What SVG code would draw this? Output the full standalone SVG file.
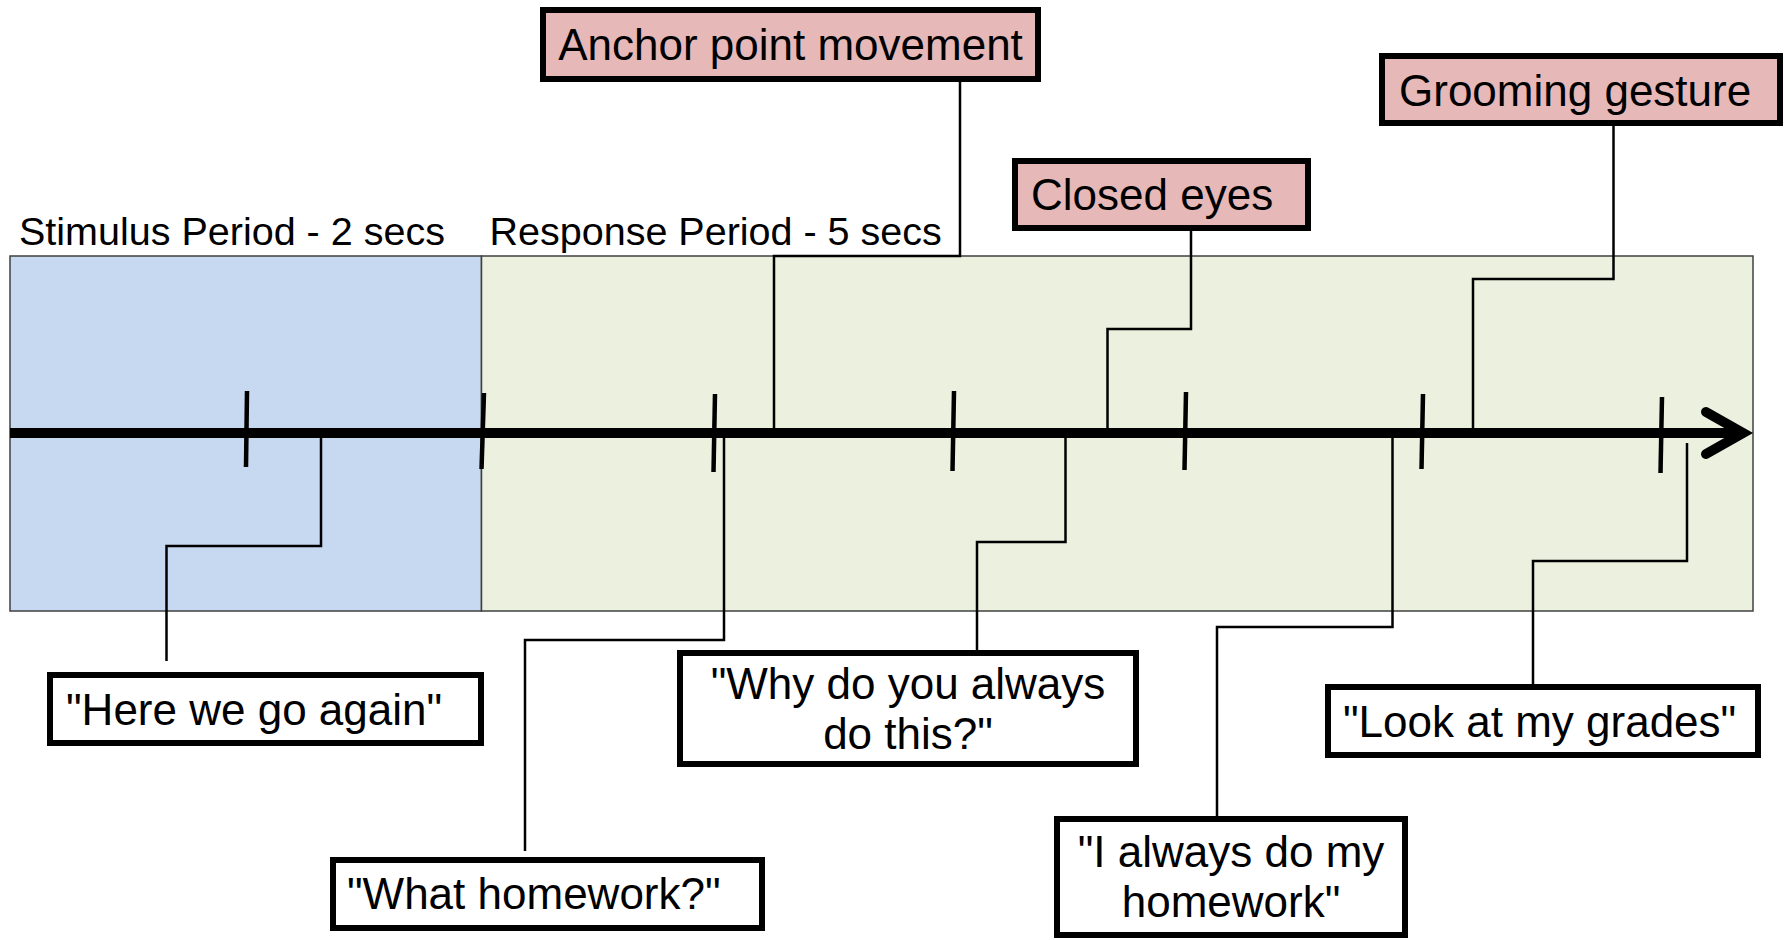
<svg xmlns="http://www.w3.org/2000/svg" width="1785" height="940" viewBox="0 0 1785 940">
<style>
.lbl{font-family:"Liberation Sans",Arial,sans-serif;font-size:39.5px;fill:#000}
.bt{font-family:"Liberation Sans",Arial,sans-serif;font-size:44px;fill:#000}
.beh{fill:#E6B8B7;stroke:#000;stroke-width:6}
.quo{fill:#FFFFFF;stroke:#000;stroke-width:6}
.con{fill:none;stroke:#000;stroke-width:2.5}
.tick{stroke:#000;stroke-width:4.5;stroke-linecap:butt}
</style>
<rect width="1785" height="940" fill="#FFFFFF"/>
<g id="periods">
<rect x="10" y="256" width="471.5" height="355" fill="#C6D9F0" stroke="#404040" stroke-width="1.5"/>
<rect x="481.5" y="256" width="1271.5" height="355" fill="#EBF1DE" stroke="#404040" stroke-width="1.5"/>
<text class="lbl" x="19" y="245">Stimulus Period - 2 secs</text>
<text class="lbl" x="489.5" y="245">Response Period - 5 secs</text>
</g>
<g id="connectors">
<path class="con" d="M321 438 V546 H166.5 V661"/>
<path class="con" d="M960 82 V256 H774 V428"/>
<path class="con" d="M724 438 V640 H525 V851"/>
<path class="con" d="M1065.5 438 V542 H977 V650"/>
<path class="con" d="M1191 231 V329 H1107.5 V428"/>
<path class="con" d="M1392.5 438 V627 H1217 V816"/>
<path class="con" d="M1613.5 126 V279 H1473 V428"/>
<path class="con" d="M1687 443 V561 H1533 V684"/>
</g>
<g id="timeline">
<line x1="10" y1="433" x2="1740" y2="433" stroke="#000" stroke-width="10"/>
<polyline points="1706,412 1743,433 1706,454" fill="none" stroke="#000" stroke-width="10" stroke-linecap="round" stroke-linejoin="miter" stroke-miterlimit="10"/>
<line class="tick" x1="247" y1="391" x2="246" y2="467"/>
<line class="tick" x1="484" y1="393" x2="481.5" y2="469"/>
<line class="tick" x1="715" y1="394" x2="713.5" y2="472"/>
<line class="tick" x1="954" y1="391" x2="952.5" y2="471"/>
<line class="tick" x1="1186" y1="392" x2="1184.5" y2="470"/>
<line class="tick" x1="1423" y1="394" x2="1421.5" y2="469"/>
<line class="tick" x1="1662" y1="397" x2="1660.5" y2="473"/>
</g>
<g id="anchor">
<rect class="beh" x="543" y="10" width="495" height="69"/>
<text class="bt" x="790.5" y="60" text-anchor="middle">Anchor point movement</text>
</g>
<g id="closed-eyes">
<rect class="beh" x="1015" y="161" width="293" height="67"/>
<text class="bt" x="1031" y="210">Closed eyes</text>
</g>
<g id="grooming">
<rect class="beh" x="1382" y="56" width="398" height="67"/>
<text class="bt" x="1399" y="105.5">Grooming gesture</text>
</g>
<g id="here">
<rect class="quo" x="50" y="675" width="431" height="68"/>
<text class="bt" x="66" y="725">"Here we go again"</text>
</g>
<g id="what">
<rect class="quo" x="333" y="860" width="429" height="68"/>
<text class="bt" x="347" y="909">"What homework?"</text>
</g>
<g id="why">
<rect class="quo" x="680" y="653" width="456" height="111"/>
<text class="bt" x="908" y="699" text-anchor="middle">"Why do you always</text>
<text class="bt" x="908" y="749" text-anchor="middle">do this?"</text>
</g>
<g id="always">
<rect class="quo" x="1057" y="819" width="348" height="116"/>
<text class="bt" x="1231" y="867" text-anchor="middle">"I always do my</text>
<text class="bt" x="1231" y="917" text-anchor="middle">homework"</text>
</g>
<g id="look">
<rect class="quo" x="1328" y="687" width="430" height="68"/>
<text class="bt" x="1343" y="737">"Look at my grades"</text>
</g>
</svg>
